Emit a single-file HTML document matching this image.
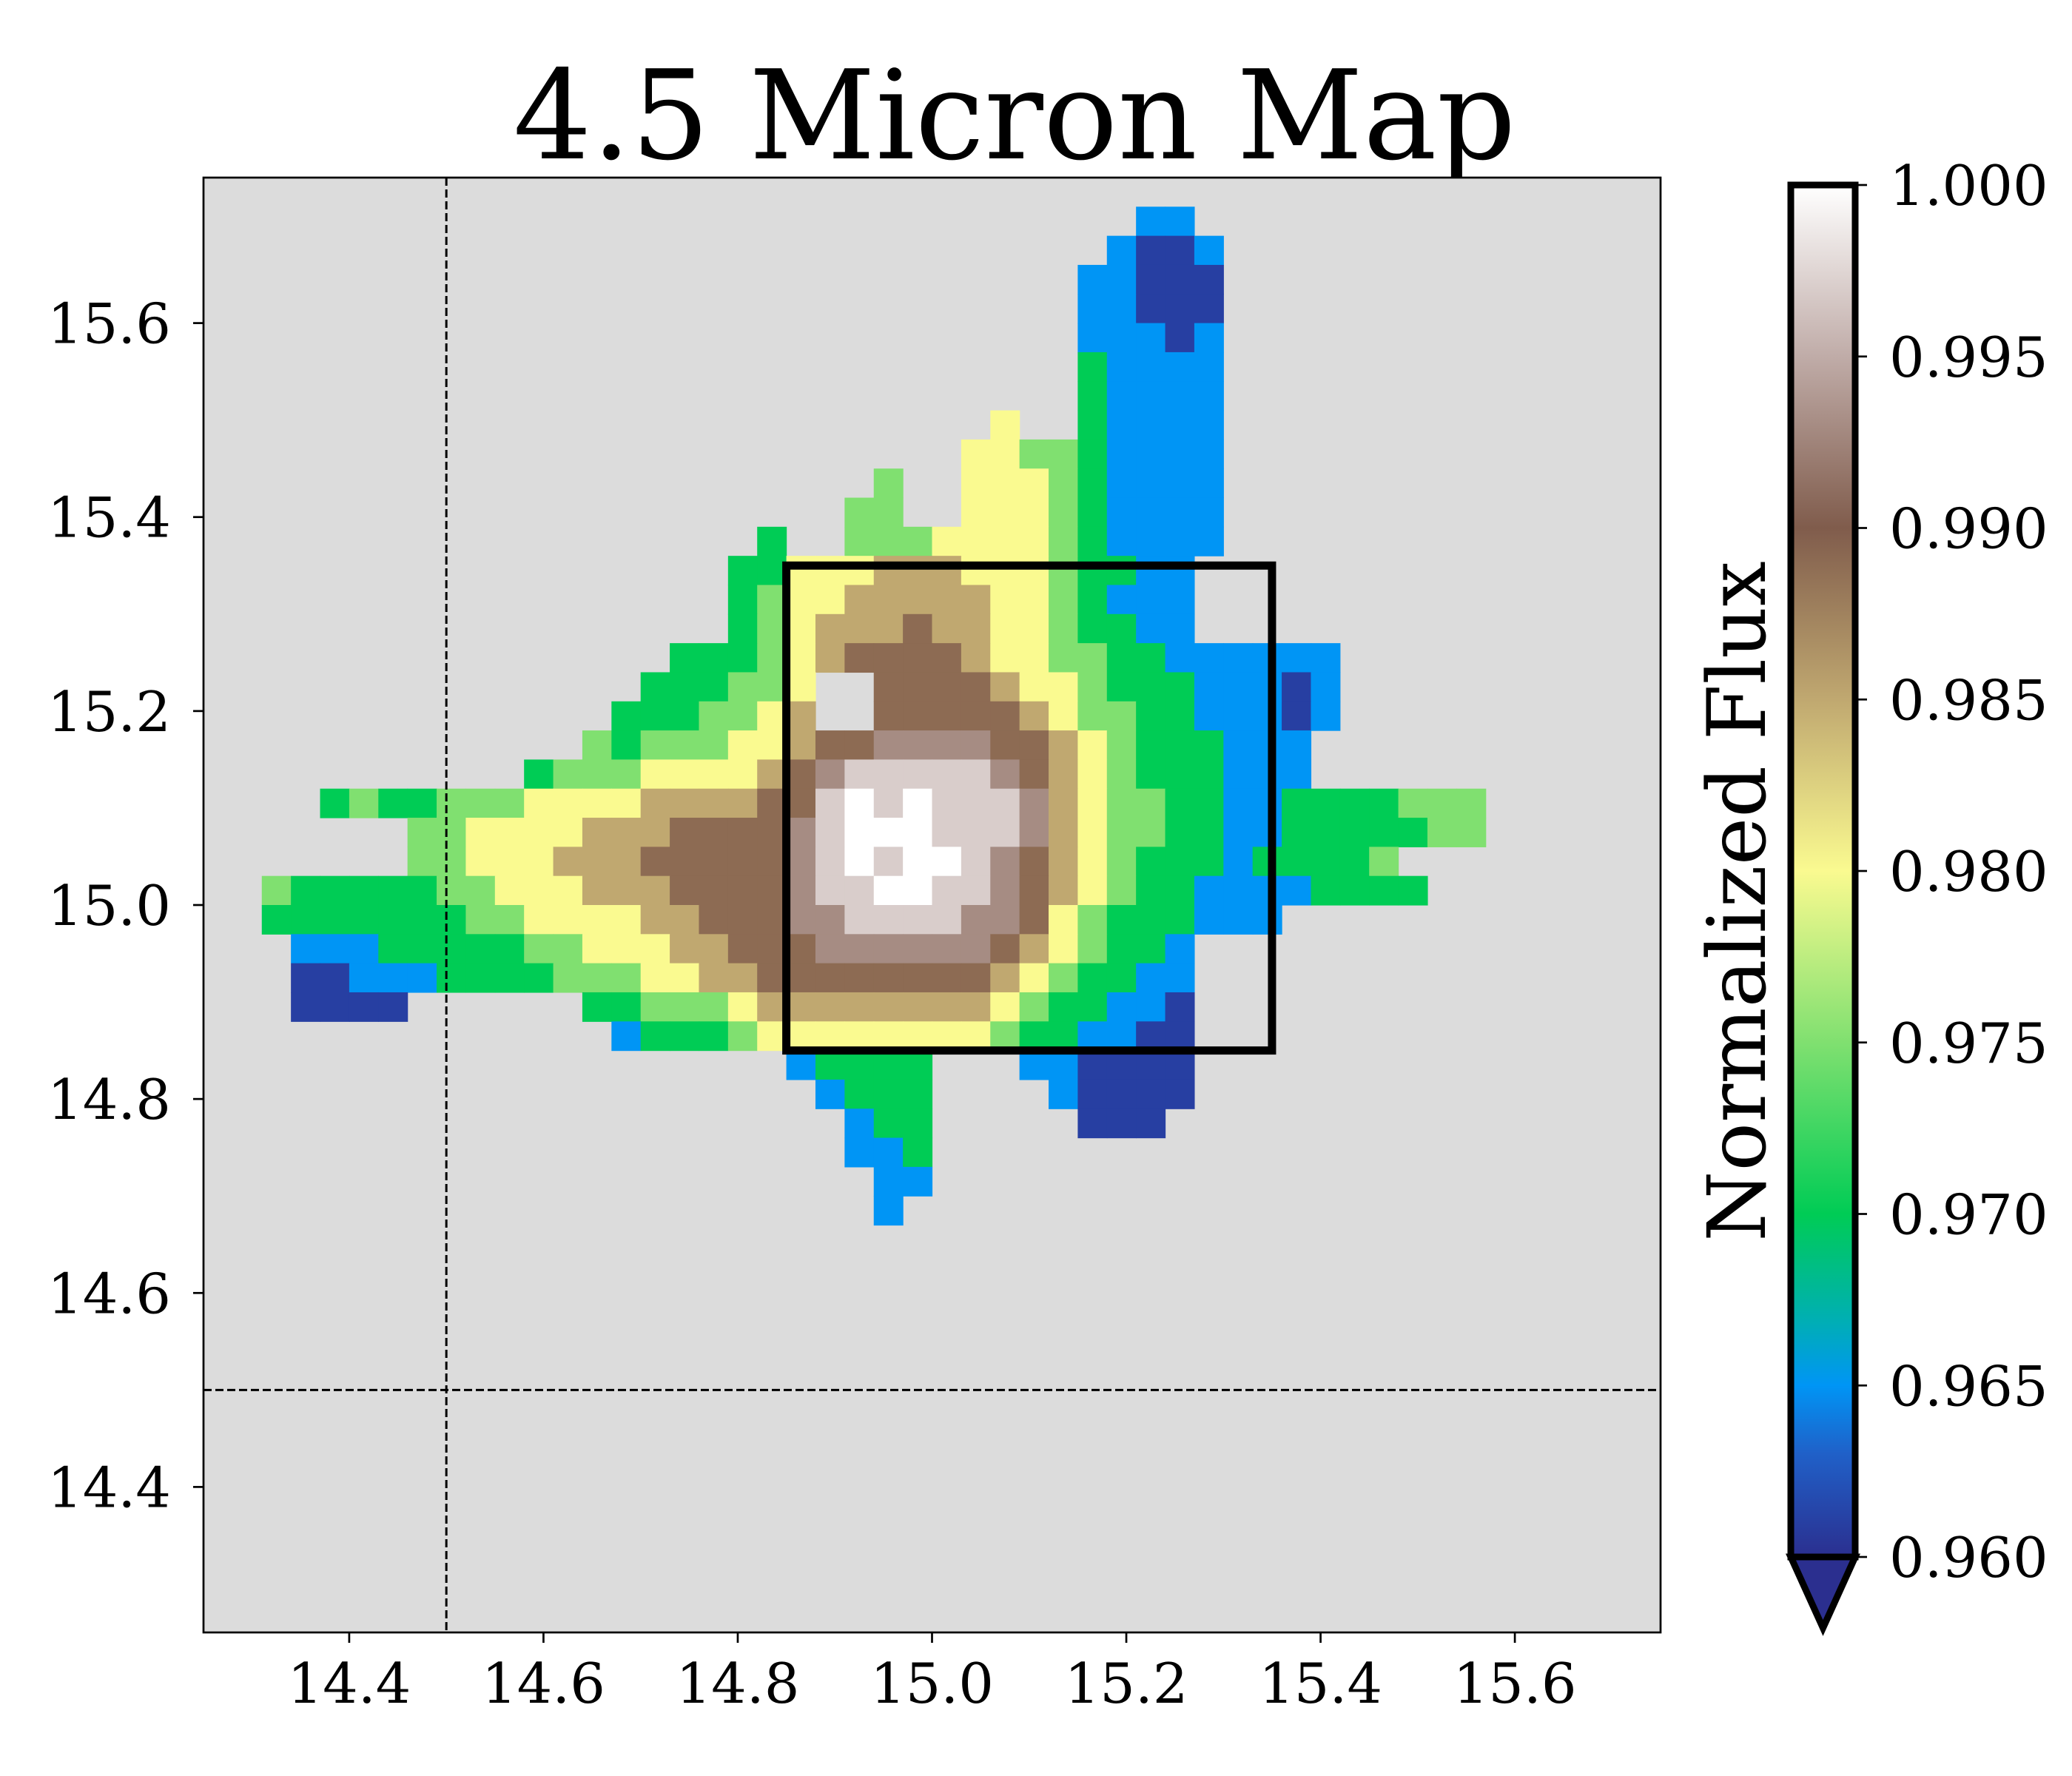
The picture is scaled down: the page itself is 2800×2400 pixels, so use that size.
<!DOCTYPE html>
<html><head><meta charset="utf-8"><style>
html,body{margin:0;padding:0;background:#fff;}
svg{display:block;font-family:"DejaVu Serif","Liberation Serif",serif;}
</style></head><body>
<svg id="chart" width="2800" height="2400" viewBox="0 0 2800 2400" xmlns="http://www.w3.org/2000/svg">
<defs>
<linearGradient id="cbgrad" x1="0" y1="1" x2="0" y2="0">
<stop offset="0" stop-color="#2b2f8f"/>
<stop offset="0.075" stop-color="#2060c8"/>
<stop offset="0.125" stop-color="#0095f5"/>
<stop offset="0.175" stop-color="#00b0b0"/>
<stop offset="0.25" stop-color="#00cc55"/>
<stop offset="0.375" stop-color="#80e070"/>
<stop offset="0.5" stop-color="#fafa90"/>
<stop offset="0.625" stop-color="#c0a870"/>
<stop offset="0.75" stop-color="#805c4c"/>
<stop offset="0.875" stop-color="#c0aca8"/>
<stop offset="1" stop-color="#ffffff"/>
</linearGradient>
<clipPath id="plotclip"><rect x="275" y="240" width="1969" height="1966"/></clipPath>
</defs>
<text x="1371" y="214" font-size="167" text-anchor="middle">4.5 Micron Map</text>
<rect x="275" y="240" width="1969" height="1966" fill="#dcdcdc"/>
<g id="heat" clip-path="url(#plotclip)"></g>
<g id="overlay"></g>
<rect x="275" y="240" width="1969" height="1966" fill="none" stroke="#000" stroke-width="2.7"/>
<g id="axes"></g>
<g id="cbar"></g>
</svg>
<script>
const xTicks = [14.4, 14.6, 14.8, 15.0, 15.2, 15.4, 15.6];
const yTicks = [14.4, 14.6, 14.8, 15.0, 15.2, 15.4, 15.6];
const cbTicks = [0.960, 0.965, 0.970, 0.975, 0.980, 0.985, 0.990, 0.995, 1.000];
const gridX0 = 14.28;
const gridYTop = 15.72;
const cellSize = 0.03;
const levelValues = [0.961, 0.965, 0.970, 0.975, 0.980, 0.985, 0.989, 0.993, 0.997, 1.000];
const gridRows = [
[31,"11"],[30,"1001"],[29,"11000"],[29,"11000"],[29,"11101"],[29,"21111"],[29,"21111"],
[26,"4..21111"],[25,"443321111"],[22,"3..444321111"],[21,"33..444321111"],
[18,"2..3334444321111"],[17,"2244455544432211"],[17,"2344555554432111"],[17,"2345556554432211"],
[15,"22234566665443322111111"],[14,"222334..6666544322211101"],[13,"2223345..6666654332211101"],
[12,"3233344566777766543222111"],[10,"233344445678888876543222111"],
[3,"2322333444455556689898887543322112222333"],[6,"3344445556666789998887543322112222233"],
[6,"3344455566666789899876543222122223"],[1,"3222223344455566667889988765432211112222"],
[1,"22222223344445566677888877643222111"],[2,"1112222233444556667777776543221"],
[2,"0011122223334455666666665432211"],[2,"0000......223334555555554322110"],
[13,"12223444444443221100"],[19,"12222...110000"],[20,"1222....10000"],[21,"122.....000"],
[21,"112"],[22,"11"],[22,"1"]
];
const boxX = [14.85, 15.35];
const boxY = [14.85, 15.35];
const refX = 14.5;
const refY = 14.5;

const NS = "http://www.w3.org/2000/svg";
const PL=275, PR=2244, PT=240, PB=2206;
function xs(v){return PL + (v-14.25)/1.5*(PR-PL);}
function ys(v){return PT + (15.75-v)/1.5*(PB-PT);}
const CB_TOP=250, CB_BOT=2104, CB_L=2420, CB_R=2507;
function cs(v){return CB_BOT - (v-0.96)/0.04*(CB_BOT-CB_TOP);}
const stops=[[0.960,[43,47,143]],[0.963,[32,96,200]],[0.965,[0,149,245]],[0.967,[0,176,176]],[0.970,[0,204,85]],[0.975,[128,224,112]],[0.980,[250,250,144]],[0.985,[192,168,112]],[0.990,[128,92,76]],[0.995,[192,172,168]],[1.000,[255,255,255]]];
function cmap(v){
  for(let i=1;i<stops.length;i++){
    if(v<=stops[i][0]){const a=stops[i-1],b=stops[i];const t=(v-a[0])/(b[0]-a[0]);
      const c=a[1].map((x,k)=>Math.round(x+(b[1][k]-x)*t));return `rgb(${c[0]},${c[1]},${c[2]})`;}
  }
  return "rgb(255,255,255)";
}
function mk(tag,attrs,parent){const e=document.createElementNS(NS,tag);for(const k in attrs)e.setAttribute(k,attrs[k]);parent.appendChild(e);return e;}

const heat=document.getElementById('heat');
gridRows.forEach((row,r)=>{
  const start=row[0], s=row[1];
  for(let i=0;i<s.length;i++){
    const ch=s[i]; if(ch==='.') continue;
    const c=start+i;
    const v0=gridX0+c*cellSize, yTop=gridYTop-r*cellSize;
    const x1=xs(v0), x2=xs(v0+cellSize), y1=ys(yTop), y2=ys(yTop-cellSize);
    const rect=mk('rect',{x:x1.toFixed(2),y:y1.toFixed(2),width:(x2-x1+0.6).toFixed(2),height:(y2-y1+0.6).toFixed(2),fill:cmap(levelValues[+ch])},heat);
    
    
  }
});

const ov=document.getElementById('overlay');
const vl=mk('line',{x1:xs(refX),x2:xs(refX),y1:PT,y2:PB,stroke:'#000','stroke-width':3,'stroke-dasharray':'11,5'},ov);


const hl=mk('line',{x1:PL,x2:PR,y1:ys(refY),y2:ys(refY),stroke:'#000','stroke-width':3,'stroke-dasharray':'11,5'},ov);


const bx=mk('rect',{x:xs(boxX[0]),y:ys(boxY[1]),width:xs(boxX[1])-xs(boxX[0]),height:ys(boxY[0])-ys(boxY[1]),fill:'none',stroke:'#000','stroke-width':11},ov);



const ax=document.getElementById('axes');
xTicks.forEach(t=>{
  const x=xs(t);
  const l=mk('line',{x1:x,x2:x,y1:PB,y2:PB+14,stroke:'#000','stroke-width':2.7},ax);
  
  
  const tx=mk('text',{x:x,y:PB+95,'font-size':75,'text-anchor':'middle'},ax);
  tx.textContent=t.toFixed(1);
  
  
});
yTicks.forEach(t=>{
  const y=ys(t);
  const l=mk('line',{x1:PL-14,x2:PL,y1:y,y2:y,stroke:'#000','stroke-width':2.7},ax);
  
  
  const tx=mk('text',{x:PL-44,y:y+27,'font-size':75,'text-anchor':'end'},ax);
  tx.textContent=t.toFixed(1);
  
  
});

const cb=document.getElementById('cbar');
const mid=(CB_L+CB_R)/2;
const tri=mk('path',{d:`M${CB_L},${CB_BOT} L${CB_R},${CB_BOT} L${mid},${CB_BOT+96} Z`,fill:'#2b2f8f',stroke:'#000','stroke-width':9,'stroke-linejoin':'miter'},cb);


const cbr=mk('rect',{x:CB_L,y:CB_TOP,width:CB_R-CB_L,height:CB_BOT-CB_TOP,fill:'url(#cbgrad)',stroke:'#000','stroke-width':9},cb);


cbTicks.forEach(t=>{
  const y=cs(t);
  const l=mk('line',{x1:CB_R+4,x2:CB_R+16,y1:y,y2:y,stroke:'#000','stroke-width':2.7},cb);
  
  
  const tx=mk('text',{x:2553,y:y+27,'font-size':75,'text-anchor':'start'},cb);
  tx.textContent=t.toFixed(3);
  
  
});
const cl=mk('text',{x:0,y:0,'font-size':109,'text-anchor':'middle',transform:'translate(2385,1218) rotate(-90)'},cb);
cl.textContent='Normalized Flux';


</script>
</body></html>
